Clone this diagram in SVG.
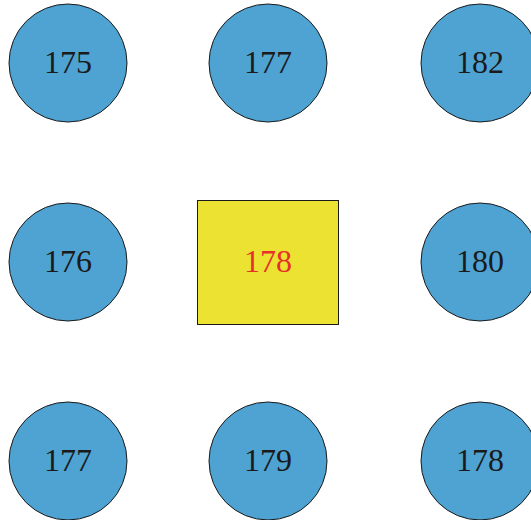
<svg xmlns="http://www.w3.org/2000/svg" width="531" height="520" viewBox="0 0 531 520">
<style>
.c{fill:#4fa3d2;stroke:#1a1a1a;stroke-width:1}
.s{fill:#ece231;stroke:#1a1a1a;stroke-width:1}
.t{font-family:"Liberation Serif","DejaVu Serif",serif;font-size:32px;text-anchor:middle;fill:#1a1a1a}
.r{fill:#e8302a}
</style>
<rect width="531" height="520" fill="#ffffff"/>
<g id="connectors"></g>
<g id="n175"><circle class="c" cx="68" cy="63" r="59"/><text class="t" x="68" y="73">175</text></g>
<g id="n177a"><circle class="c" cx="268" cy="63" r="59"/><text class="t" x="268" y="73">177</text></g>
<g id="n182"><circle class="c" cx="480" cy="63" r="59"/><text class="t" x="480" y="73">182</text></g>
<g id="n176"><circle class="c" cx="68" cy="262" r="59"/><text class="t" x="68" y="272">176</text></g>
<g id="n178c"><rect class="s" x="197.5" y="200.5" width="141" height="124"/><text class="t r" x="268" y="272">178</text></g>
<g id="n180"><circle class="c" cx="480" cy="262" r="59"/><text class="t" x="480" y="272">180</text></g>
<g id="n177b"><circle class="c" cx="68" cy="461" r="59"/><text class="t" x="68" y="471">177</text></g>
<g id="n179"><circle class="c" cx="268" cy="461" r="59"/><text class="t" x="268" y="471">179</text></g>
<g id="n178"><circle class="c" cx="480" cy="461" r="59"/><text class="t" x="480" y="471">178</text></g>
</svg>
